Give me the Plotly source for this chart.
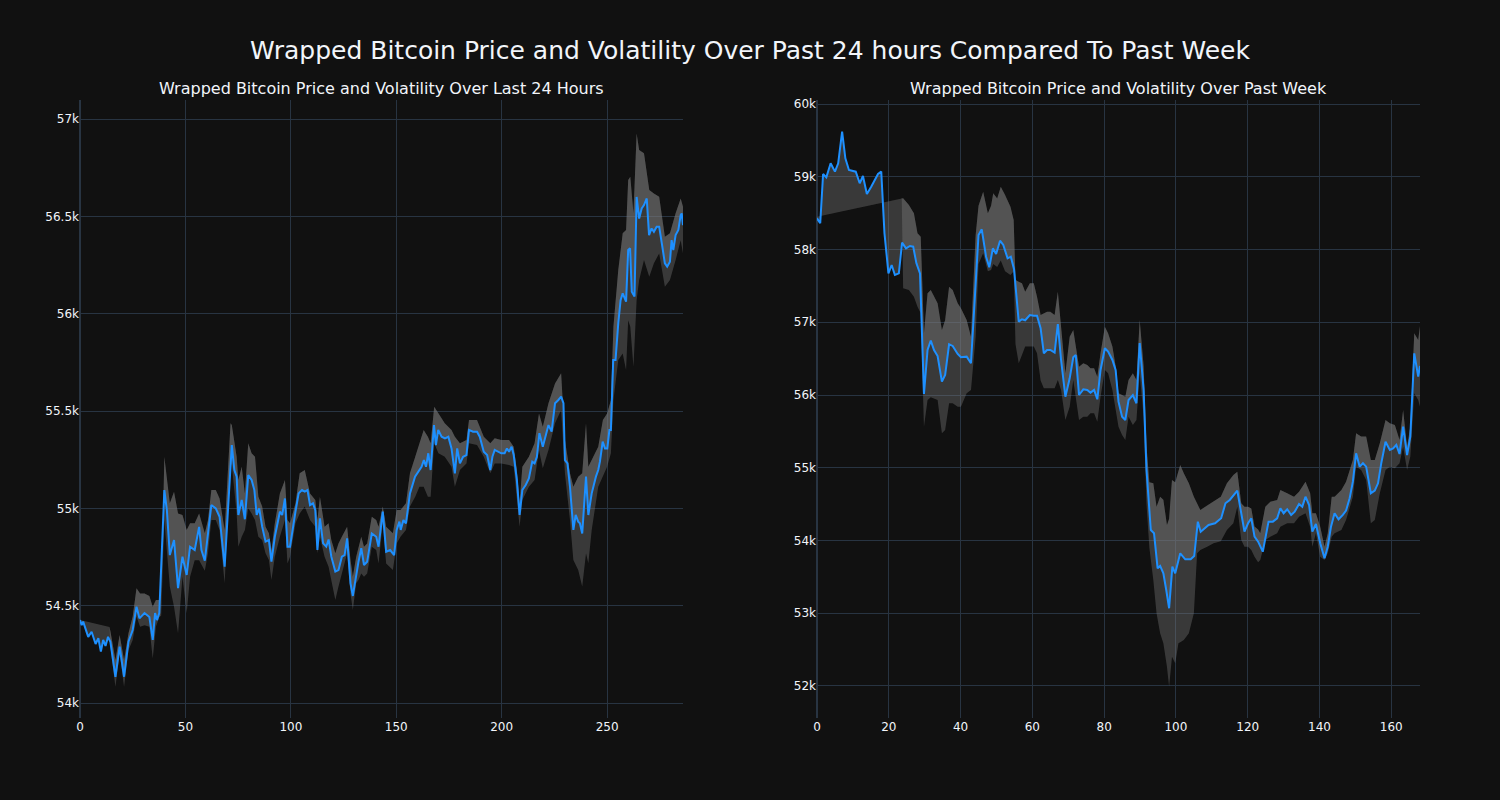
import plotly.graph_objects as go
from plotly.subplots import make_subplots

# ---------------- Last 24 hours (left panel) ----------------
day_x = [0, 0.8, 1.5, 3.9, 5.5, 7.4, 8.7, 9.9, 11.0, 12.1, 13.3, 14.4, 16.8, 18.8, 20.9, 23.0, 25.0, 26.8, 28.2,
         30.6, 32.9, 34.5, 35.6, 36.5, 37.6, 40.0, 41.2, 42.6, 44.6, 46.5, 48.6, 50.6, 52.2, 54.4, 56.5, 57.6,
         59.2, 60.7, 62.3, 64.4, 66.2, 68.6, 72.0, 73.2, 74.3, 75.1, 76.7, 78.2, 79.8, 81.4, 82.7, 83.8, 85.0,
         86.4, 88.0, 89.6, 90.8, 92.4, 94.8, 95.9, 97.2, 98.4, 99.6, 102.2, 103.7, 105.3, 106.6, 107.9, 109.1,
         110.5, 111.6, 112.6, 113.8, 115.3, 116.8, 117.9, 119.2, 121.1, 122.6, 124.2, 125.5, 126.7, 128.3,
         129.4, 131.0, 132.1, 133.4, 134.7, 136.2, 138.4, 140.5, 141.6, 143.6, 145.2, 147.1, 148.4, 149.0,
         150.2, 151.5, 152.1, 153.4, 154.6, 156.5, 158.9, 160.9, 162.0, 163.1, 164.1, 165.2, 166.3, 167.9,
         168.8, 169.9, 171.5, 173.1, 174.7, 176.2, 177.8, 178.9, 180.2, 181.7, 183.3, 184.5, 186.4, 188.3,
         189.6, 191.5, 193.1, 194.6, 195.6, 196.7, 198.3, 199.8, 201.4, 202.5, 203.5, 204.7, 205.7, 207.2,
         208.5, 209.8, 211.4, 212.9, 214.5, 215.6, 216.7, 217.9, 219.5, 222.2, 223.7, 225.3, 226.9, 228.2,
         229.3, 230.0, 231.2, 232.4, 234.0, 235.1, 236.3, 237.1, 238.2, 240.0, 241.1, 242.7, 244.7, 245.8,
         246.6, 247.9, 249.0, 250.1, 251.1, 251.8, 252.9, 254.0, 255.3, 256.4, 257.4, 259.0, 260.0, 260.9,
         261.7, 263.0, 264.0, 265.2, 266.4, 267.5, 268.8, 269.9, 271.1, 272.2, 273.5, 274.7, 276.2, 277.4,
         278.5, 279.8, 280.6, 281.4, 282.5, 283.8, 284.9, 285.4, 286.0]
day_price = [54426, 54400, 54418, 54340, 54366, 54303, 54333, 54264, 54324, 54293, 54340, 54315, 54135, 54289,
             54135, 54315, 54375, 54495, 54435, 54462, 54442, 54324, 54462, 54426, 54462, 55094, 54991, 54760,
             54837, 54590, 54752, 54658, 54803, 54786, 54905, 54786, 54731, 54871, 55017, 55000, 54957, 54700,
             55325, 55197, 55163, 54966, 55043, 54944, 55171, 55146, 55094, 54966, 55000, 54906, 54829, 54837,
             54726, 54854, 54983, 54966, 55051, 54803, 54803, 54983, 55077, 55094, 55086, 55094, 55017, 55026,
             54991, 54786, 54949, 54820, 54803, 54840, 54752, 54675, 54683, 54752, 54760, 54846, 54615, 54550,
             54666, 54726, 54795, 54709, 54726, 54871, 54854, 54803, 54983, 54777, 54786, 54765, 54760, 54889,
             54932, 54889, 54940, 54923, 55077, 55163, 55197, 55214, 55248, 55214, 55283, 55197, 55428, 55325,
             55403, 55368, 55360, 55368, 55308, 55180, 55308, 55231, 55265, 55274, 55403, 55394, 55394, 55368,
             55291, 55274, 55197, 55265, 55300, 55291, 55283, 55283, 55308, 55291, 55317, 55274, 55146, 54966,
             55094, 55120, 55154, 55240, 55231, 55265, 55386, 55317, 55428, 55394, 55540, 55557, 55574, 55540,
             55248, 55231, 55111, 54889, 54966, 54932, 54923, 54871, 55163, 54966, 55077, 55163, 55197, 55240,
             55343, 55308, 55308, 55403, 55403, 55762, 55762, 55951, 56070, 56105, 56062, 56327, 56336, 56113,
             56088, 56600, 56489, 56541, 56558, 56592, 56404, 56438, 56421, 56447, 56447, 56344, 56259, 56242,
             56267, 56378, 56327, 56404, 56430, 56507, 56515, 56455]

day_band_x = [0, 14.0, 14.4, 16.8, 18.8, 20.9, 23.0, 25.0, 26.8, 28.5, 30.6, 32.9, 34.5, 36.0, 37.6, 38.5,
              40.0, 41.2, 42.6, 44.6, 46.5, 48.6, 50.6, 52.2, 54.4, 56.5, 59.2, 60.7, 62.3, 64.4, 66.2, 68.6,
              71.4, 72.0, 74.3, 75.1, 76.7, 78.2, 79.8, 81.4, 83.0, 84.6, 86.4, 88.0, 89.6, 90.8, 92.4, 94.8,
              97.2, 98.4, 99.6, 102.2, 104.2, 106.6, 109.1, 111.6, 112.6, 113.8, 116.0, 117.9, 119.2, 121.1,
              122.6, 124.2, 126.7, 128.3, 129.4, 131.0, 132.1, 133.4, 134.7, 136.2, 138.4, 140.5, 141.6, 143.6,
              145.2, 148.4, 150.2, 152.0, 154.6, 156.5, 159.0, 161.0, 163.0, 165.0, 166.3, 168.0, 170.0, 173.0,
              176.2, 177.8, 180.2, 183.3, 184.5, 188.3, 191.5, 194.6, 196.7, 199.8, 203.5, 205.7, 207.2, 208.5,
              209.8, 212.9, 215.6, 217.7, 219.5, 222.2, 225.3, 228.2, 230.0, 232.4, 234.0, 236.3, 238.2, 240.0,
              241.1, 242.7, 245.8, 248.0, 250.0, 251.8, 253.0, 255.3, 257.4, 259.0, 260.0, 261.0, 262.5, 264.0,
              265.2, 267.5, 270.0, 272.2, 274.7, 277.4, 279.8, 282.5, 284.9, 286.0]
day_upper = [54426, 54390, 54370, 54221, 54349, 54221, 54358, 54444, 54589, 54563, 54563, 54550, 54495, 54529,
             54529, 54520, 55265, 55146, 55026, 55086, 54974, 54966, 54889, 54923, 54923, 54974, 54872, 54940,
             55094, 55094, 55051, 54889, 55437, 55428, 55265, 55146, 55214, 55077, 55334, 55283, 55265, 55060,
             55009, 54906, 54872, 54786, 54923, 55077, 55146, 54940, 54923, 55026, 55180, 55197, 55077, 55043,
             54940, 55060, 54906, 54923, 54837, 54769, 54820, 54854, 54906, 54735, 54649, 54752, 54803, 54854,
             54803, 54820, 54957, 54940, 54906, 55009, 54906, 54872, 54991, 54991, 55026, 55180, 55265, 55334,
             55402, 55368, 55334, 55522, 55488, 55437, 55402, 55368, 55334, 55351, 55454, 55454, 55368, 55334,
             55360, 55351, 55351, 55317, 55197, 55026, 55214, 55265, 55334, 55488, 55419, 55540, 55642, 55694,
             55351, 55180, 55111, 55163, 55180, 55437, 55214, 55248, 55317, 55454, 55488, 55556, 55933, 56224,
             56413, 56430, 56687, 56704, 56516, 56926, 56841, 56824, 56635, 56618, 56601, 56395, 56413, 56516,
             56592, 56550]
day_lower = [54426, 54390, 54290, 54084, 54255, 54084, 54272, 54324, 54444, 54392, 54400, 54392, 54229, 54392,
             54440, 54450, 54940, 54769, 54598, 54495, 54358, 54649, 54461, 54649, 54734, 54734, 54680, 54769,
             54940, 54940, 54889, 54615, 55231, 55223, 54974, 54803, 54854, 54889, 55000, 54974, 54940, 54854,
             54837, 54769, 54735, 54632, 54752, 54854, 54940, 54717, 54752, 54923, 54974, 55009, 54940, 54906,
             54769, 54854, 54752, 54700, 54632, 54529, 54598, 54666, 54769, 54563, 54478, 54615, 54632, 54666,
             54649, 54666, 54803, 54786, 54717, 54923, 54717, 54683, 54820, 54854, 54889, 55009, 55060, 55111,
             55111, 55060, 55060, 55334, 55283, 55265, 55214, 55111, 55197, 55231, 55334, 55325, 55265, 55180,
             55231, 55231, 55223, 55214, 55060, 54906, 55043, 55111, 55146, 55300, 55206, 55300, 55437, 55505,
             55180, 54940, 54735, 54683, 54598, 54769, 54718, 54889, 55111, 55163, 55214, 55283, 55556, 55762,
             55796, 55711, 55967, 55933, 55728, 56070, 56173, 56276, 56190, 56259, 56310, 56139, 56173, 56276,
             56378, 56310]

# ---------------- Past week (right panel) ----------------
week_x = [0, 0.9, 1.7, 2.6, 3.8, 5.0, 5.9, 7.0, 7.9, 8.9, 10.8, 11.9, 12.8, 13.9, 15.1, 17.0, 17.9, 18.8, 19.9,
          20.8, 21.7, 22.8, 23.7, 24.8, 25.9, 26.8, 27.7, 28.7, 29.8, 30.8, 31.7, 32.6, 33.6, 34.8, 35.7, 36.8,
          37.8, 39.2, 40.1, 41.7, 42.9, 45.0, 45.9, 47.1, 48.0, 49.0, 49.9, 51.0, 51.9, 53.1, 54.0, 54.9, 56.2,
          57.1, 58.0, 59.3, 60.4, 61.3, 62.3, 63.2, 64.1, 65.0, 66.2, 67.1, 68.0, 69.2, 70.4, 71.4, 72.1, 73.0,
          74.2, 75.3, 76.2, 77.2, 78.1, 79.0, 80.2, 81.1, 82.3, 83.2, 84.0, 85.0, 85.9, 86.8, 88.0, 89.0, 89.9,
          91.0, 91.8, 93.0, 93.9, 94.9, 95.6, 96.5, 97.3, 98.1, 99.0, 99.8, 101.2, 102.6, 104.1, 105.1, 106.1,
          106.9, 109.1, 110.9, 112.6, 113.8, 115.0, 117.1, 118.2, 119.1, 120.1, 121.0, 121.9, 122.9, 124.2,
          125.8, 127.0, 128.2, 129.1, 130.0, 131.0, 132.1, 133.1, 134.3, 135.2, 136.1, 137.1, 138.0, 139.0,
          140.2, 141.4, 142.3, 143.2, 144.2, 145.3, 146.5, 147.4, 148.4, 149.3, 150.2, 151.2, 152.1, 153.0,
          154.3, 155.4, 156.3, 157.2, 158.4, 159.6, 160.5, 161.4, 162.3, 163.3, 164.4, 165.3, 166.4, 167.5,
          168.0]
week_price = [58429, 58360, 59038, 58992, 59185, 59070, 59185, 59620, 59253, 59093, 59070, 58910, 59010, 58763,
              58864, 59038, 59070, 58222, 57672, 57787, 57650, 57672, 58094, 58016, 58048, 58039, 57810, 57672,
              56014, 56619, 56747, 56619, 56536, 56183, 56275, 56697, 56674, 56564, 56518, 56527, 56436, 58199,
              58277, 57901, 57755, 58016, 57938, 58121, 58062, 57879, 57901, 57728, 57008, 57041, 57027, 57100,
              57091, 57091, 56917, 56573, 56619, 56619, 56582, 56976, 56481, 55977, 56229, 56518, 56550, 56000,
              56078, 56069, 56032, 56069, 55941, 56344, 56642, 56596, 56481, 56344, 55908, 55702, 55656, 55931,
              56000, 55886, 56715, 56069, 54969, 54144, 54099, 53618, 53650, 53549, 53320, 53068, 53640, 53549,
              53824, 53741, 53741, 53787, 54259, 54121, 54213, 54236, 54305, 54511, 54557, 54685, 54374, 54121,
              54236, 54305, 54053, 53984, 53846, 54259, 54259, 54305, 54443, 54374, 54429, 54351, 54397, 54502,
              54465, 54602, 54488, 54121, 54227, 53961, 53755, 53915, 54190, 54374, 54291, 54351, 54411, 54580,
              54809, 55199, 55015, 55061, 55015, 54649, 54685, 54786, 55061, 55358, 55244, 55267, 55313, 55189,
              55565, 55175, 55427, 56573, 56252, 56400]

week_band_x = [0, 23.6, 24.0, 25.6, 27.0, 28.0, 28.9, 29.8, 30.8, 31.7, 33.6, 34.8, 35.7, 36.8, 37.8, 39.2,
               40.1, 41.7, 42.9, 44.2, 45.0, 46.3, 47.6, 48.5, 49.1, 50.2, 51.2, 52.4, 53.9, 54.8, 55.3, 56.2,
               57.1, 58.0, 59.3, 60.4, 61.3, 62.3, 63.2, 64.1, 65.0, 66.2, 67.1, 68.0, 69.2, 70.4, 71.4, 73.0,
               74.2, 75.3, 76.2, 77.2, 78.1, 79.0, 80.2, 81.1, 82.3, 83.2, 84.0, 85.0, 85.9, 86.8, 88.0, 89.0,
               89.9, 91.0, 91.8, 92.6, 93.7, 94.6, 95.6, 96.5, 97.5, 98.1, 98.9, 99.8, 100.7, 101.2, 102.2, 103.6,
               105.0, 105.9, 106.8, 108.7, 110.5, 112.5, 114.2, 116.0, 117.1, 118.2, 119.1, 120.1, 121.0, 121.9,
               122.9, 123.5, 124.9, 126.3, 128.2, 129.1, 131.0, 132.9, 134.3, 136.1, 137.4, 138.0, 139.0, 140.2,
               141.4, 142.3, 143.4, 144.2, 146.1, 147.4, 149.3, 150.2, 151.6, 153.0, 154.3, 155.4, 156.8, 158.4,
               159.6, 161.0, 162.3, 163.3, 164.4, 165.3, 166.4, 167.5, 168.0]
week_upper = [58450, 58700, 58704, 58612, 58498, 58222, 58176, 56848, 57400, 57442, 57260, 56894, 57031, 57489,
              57442, 57260, 57192, 57031, 56802, 58200, 58600, 58795, 58498, 58600, 58772, 58700, 58864, 58749,
              58589, 58406, 57581, 57558, 57535, 57420, 57535, 57535, 57351, 57100, 57123, 57145, 57145, 57100,
              57420, 56894, 56298, 56802, 56894, 56389, 56436, 56412, 56367, 56367, 56252, 56573, 56939, 56848,
              56665, 56400, 56023, 56000, 55977, 56206, 56298, 56206, 57031, 56400, 55300, 54800, 54786, 54465,
              54602, 54560, 54213, 54300, 54832, 54800, 54950, 55038, 54923, 54786, 54602, 54500, 54419, 54480,
              54533, 54600, 54786, 54900, 54946, 54511, 54465, 54465, 54440, 54191, 54150, 54099, 54465, 54534,
              54557, 54694, 54648, 54602, 54671, 54809, 54648, 54374, 54374, 54190, 53915, 54099, 54602, 54602,
              54694, 54809, 55107, 55474, 55428, 55428, 55107, 55107, 55336, 55657, 55611, 55588, 55382, 55794,
              55290, 55565, 56848, 56757, 56950]
week_lower = [58450, 58700, 57467, 57442, 57351, 57214, 57123, 55565, 55931, 55968, 55931, 55474, 55519, 55886,
              55886, 55839, 55839, 56023, 56069, 56800, 57800, 57948, 57700, 57718, 57800, 57760, 57850, 57700,
              57650, 57700, 56700, 56436, 56550, 56665, 56665, 56665, 56573, 56200, 56092, 56092, 56092, 56092,
              56206, 56069, 55656, 55839, 56206, 55656, 55702, 55702, 55748, 55748, 55633, 55977, 56344, 56298,
              56069, 55800, 55565, 55450, 55381, 55702, 55588, 55656, 56300, 55700, 54500, 53900, 53457, 52999,
              52724, 52587, 52266, 51991, 52403, 52312, 52587, 52600, 52632, 52724, 52999, 53824, 53870, 53915,
              53961, 53990, 54144, 54236, 54465, 54007, 53915, 53915, 53870, 53778, 53700, 53732, 54007, 54053,
              54099, 54190, 54236, 54236, 54328, 54374, 54190, 53915, 54099, 53778, 53732, 53824, 54053, 54099,
              54145, 54282, 54602, 55015, 54969, 54832, 54236, 54282, 54648, 54969, 55015, 54992, 55061, 55290,
              54969, 55153, 56023, 55931, 55840]

LINE_COLOR = "#1E90FF"
FILL_COLOR = "rgba(128,128,128,0.37)"
FONT = "DejaVu Sans"

fig = make_subplots(
    rows=1, cols=2, horizontal_spacing=0.1,
    subplot_titles=("Wrapped Bitcoin Price and Volatility Over Last 24 Hours",
                    "Wrapped Bitcoin Price and Volatility Over Past Week"),
)

def add_panel(col, x, price, bx, upper, lower):
    # base for the fill (invisible)
    fig.add_trace(go.Scatter(x=x, y=price, mode="lines", line=dict(width=0, color=LINE_COLOR),
                             hoverinfo="skip", showlegend=False), row=1, col=col)
    # price -> upper
    fig.add_trace(go.Scatter(x=bx, y=upper, mode="lines", line=dict(width=0), fill="tonexty",
                             fillcolor=FILL_COLOR, name="Upper", showlegend=False), row=1, col=col)
    # upper -> lower
    fig.add_trace(go.Scatter(x=bx, y=lower, mode="lines", line=dict(width=0), fill="tonexty",
                             fillcolor=FILL_COLOR, name="Lower", showlegend=False), row=1, col=col)
    # price line
    fig.add_trace(go.Scatter(x=x, y=price, mode="lines", line=dict(width=2, color=LINE_COLOR),
                             name="Price", showlegend=False), row=1, col=col)

add_panel(1, day_x, day_price, day_band_x, day_upper, day_lower)
add_panel(2, week_x, week_price, week_band_x, week_upper, week_lower)

fig.update_layout(
    template="plotly_dark",
    width=1500, height=800,
    paper_bgcolor="#111111", plot_bgcolor="#111111",
    font=dict(family=FONT, size=12, color="#f2f5fa"),
    title=dict(text="Wrapped Bitcoin Price and Volatility Over Past 24 hours Compared To Past Week",
               x=0.5, xanchor="center", y=0.9375, yanchor="middle", font=dict(size=25, family=FONT)),
    margin=dict(l=80, r=80, t=100, b=82),
    showlegend=False,
)
for ann in fig.layout.annotations:
    ann.font = dict(size=16, family=FONT, color="#f2f5fa")

fig.update_xaxes(range=[0, 286], dtick=50, row=1, col=1)
fig.update_xaxes(range=[0, 168], dtick=20, row=1, col=2)
fig.update_yaxes(range=[53923, 57098], dtick=500, row=1, col=1)
fig.update_yaxes(range=[51560, 60055], dtick=1000, row=1, col=2)

fig.write_html(
    "out.html",
    config={"displayModeBar": False},
    post_script="document.body.style.margin='0';document.body.style.background='#111111';",
)
